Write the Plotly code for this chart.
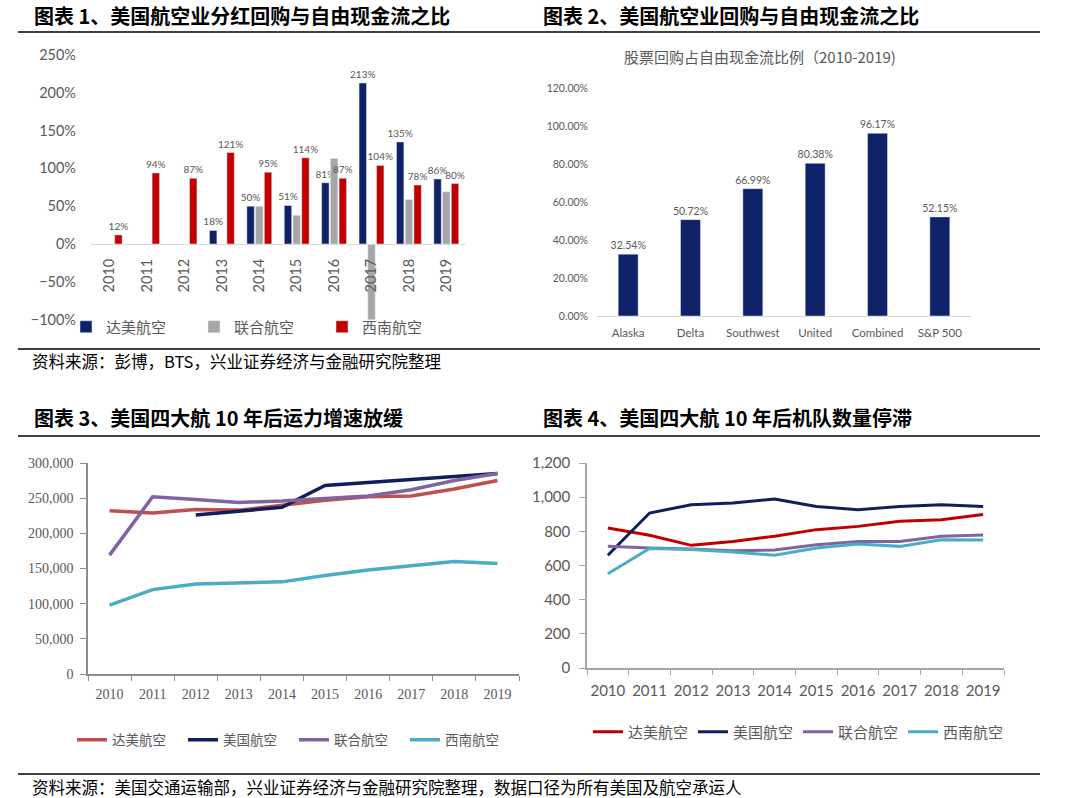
import plotly.graph_objects as go

W, H = 1077, 798

# ---- chart 1 data: dividends + buybacks / FCF (%)
years = ['2010', '2011', '2012', '2013', '2014', '2015', '2016', '2017', '2018', '2019']
delta_ratio = [None, None, None, 18, 50, 51, 81, 213, 135, 86]
united_ratio = [None, None, None, None, 50, 38, 113, -466, 59, 69]
southwest_ratio = [12, 94, 87, 121, 95, 114, 87, 104, 78, 80]

# ---- chart 2 data: buybacks / FCF 2010-2019
carriers = ['Alaska', 'Delta', 'Southwest', 'United', 'Combined', 'S&P 500']
buyback_share = [32.54, 50.72, 66.99, 80.38, 96.17, 52.15]

# ---- chart 3 data: capacity
delta_cap = [232000, 229000, 234000, 233000, 240000, 247000, 252000, 253000, 263000, 275000]
american_cap = [None, None, 226000, 231000, 237000, 268000, 272000, 276000, 281000, 285000]
united_cap = [169000, 252000, 248000, 244000, 246000, 250000, 253000, 262000, 275000, 285000]
southwest_cap = [98000, 120000, 128000, 130000, 131000, 140000, 148000, 154000, 160000, 157000]

# ---- chart 4 data: fleet size
delta_fleet = [820, 777, 718, 741, 771, 810, 829, 859, 868, 898]
american_fleet = [660, 907, 956, 966, 989, 946, 927, 946, 956, 946]
united_fleet = [712, 702, 697, 687, 691, 722, 740, 740, 771, 779]
southwest_fleet = [552, 700, 693, 679, 660, 702, 726, 712, 751, 749]

airlines = ['达美航空', '美国航空', '联合航空', '西南航空']

NAVY = '#0F2167'
GRAY_BAR = '#A6A6A6'
RED_BAR = '#C00000'
TXT = '#595959'
SANS = 'Lato, Noto Sans CJK SC'
SERIF = 'Liberation Serif, Noto Sans CJK SC'
CJK = 'Noto Sans CJK SC'


def px(x):
  return x / W


def py(y):
  return 1 - y / H


fig = go.Figure()

# chart 1
def ratio_text(vals):
  return ['' if v is None else f'{v}%' for v in vals]

label_font = dict(size=10, color=TXT, family=SANS)
fig.add_trace(go.Bar(x=years, y=delta_ratio, name='达美航空', marker_color=NAVY,
                     text=ratio_text(delta_ratio), textposition='outside', cliponaxis=False,
                     constraintext='none', textfont=label_font,
                     xaxis='x', yaxis='y', legend='legend'))
fig.add_trace(go.Bar(x=years, y=united_ratio, name='联合航空', marker_color=GRAY_BAR,
                     xaxis='x', yaxis='y', legend='legend'))
fig.add_trace(go.Bar(x=years, y=southwest_ratio, name='西南航空', marker_color=RED_BAR,
                     text=ratio_text(southwest_ratio), textposition='outside', cliponaxis=False,
                     constraintext='none', textfont=label_font,
                     xaxis='x', yaxis='y', legend='legend'))

# chart 2
fig.add_trace(go.Bar(x=carriers, y=buyback_share, marker_color=NAVY, showlegend=False,
                     texttemplate='%{y:.2f}%', textposition='outside', cliponaxis=False,
                     constraintext='none', textfont=dict(size=10.5, color=TXT, family=SANS),
                     xaxis='x2', yaxis='y2', width=0.32))

# chart 3
line_cols3 = ['#C0504D', '#0F1F5C', '#8064A2', '#4BACC6']
for name, vals, col in zip(airlines, [delta_cap, american_cap, united_cap, southwest_cap], line_cols3):
  fig.add_trace(go.Scatter(x=years, y=vals, name=name, mode='lines',
                           line=dict(color=col, width=3.5), xaxis='x3', yaxis='y3', legend='legend2'))

# chart 4
line_cols4 = ['#C00000', '#0F1F5C', '#8064A2', '#4BACC6']
for name, vals, col in zip(airlines, [delta_fleet, american_fleet, united_fleet, southwest_fleet], line_cols4):
  fig.add_trace(go.Scatter(x=years, y=vals, name=name, mode='lines',
                           line=dict(color=col, width=3), xaxis='x4', yaxis='y4', legend='legend3'))

y1dom = [py(319.6), py(55)]
zero_pos = y1dom[0] + (100 / 350) * (y1dom[1] - y1dom[0])

fig.update_layout(
  width=W, height=H,
  margin=dict(l=0, r=0, t=0, b=0, autoexpand=False),
  paper_bgcolor='white', plot_bgcolor='white',
  barmode='group', bargap=0.3, bargroupgap=0.15,
  font=dict(family=SANS, color=TXT),
  xaxis=dict(domain=[px(91), px(465)], anchor='free', position=zero_pos, automargin=False,
             type='category', range=[-0.5, 9.5], tickangle=-90, showline=True,
             linecolor='#D9D9D9', linewidth=1, showgrid=False, ticks='',
             ticklabelstandoff=8, tickfont=dict(size=14.5, color=TXT, family=SANS)),
  yaxis=dict(domain=y1dom, anchor='x', range=[-100, 250], dtick=50, ticksuffix='%',
             showgrid=False, zeroline=False, showline=False, ticklabelstandoff=14,
             automargin=False, tickfont=dict(size=14.5, color=TXT, family=SANS)),
  xaxis2=dict(domain=[px(597), px(971)], anchor='y2', type='category', range=[-0.5, 5.5],
              showline=True, linecolor='#D9D9D9', showgrid=False, ticks='', ticklabelstandoff=6,
              automargin=False, tickfont=dict(size=11.5, color=TXT, family=SANS)),
  yaxis2=dict(domain=[py(316), py(88)], anchor='x2', range=[0, 120], dtick=20,
              tickformat='.2f', ticksuffix='%', showgrid=False, zeroline=False, showline=False,
              automargin=False, ticklabelstandoff=8, tickfont=dict(size=10.5, color=TXT, family=SANS)),
  xaxis3=dict(domain=[px(88), px(519)], anchor='y3', type='category', range=[-0.5, 9.5],
              showline=True, linecolor='#8C8C8C', linewidth=1.5, showgrid=False,
              ticks='outside', tickson='boundaries', ticklen=5, tickcolor='#8C8C8C',
              automargin=False, tickangle=0,
              ticklabelstandoff=6, tickfont=dict(size=14, color=TXT, family=SERIF)),
  yaxis3=dict(domain=[py(674), py(463)], anchor='x3', range=[0, 300000], dtick=50000,
              tickformat=',', showgrid=False, zeroline=False, showline=True,
              linecolor='#8C8C8C', linewidth=1.5, ticks='outside', ticklen=6,
              tickcolor='#8C8C8C', ticklabelstandoff=4, automargin=False,
              tickfont=dict(size=14, color=TXT, family=SERIF)),
  xaxis4=dict(domain=[px(587), px(1004)], anchor='y4', type='category', range=[-0.5, 9.5],
              showline=True, linecolor='#A6A6A6', linewidth=1.5, showgrid=False,
              ticks='outside', tickson='boundaries', ticklen=5, tickcolor='#A6A6A6',
              automargin=False, tickangle=0,
              ticklabelstandoff=8, tickfont=dict(size=15, color=TXT, family=SANS)),
  yaxis4=dict(domain=[py(668), py(463)], anchor='x4', range=[0, 1200], dtick=200,
              tickformat=',', showgrid=False, zeroline=False, showline=True,
              linecolor='#A6A6A6', linewidth=1.5, ticks='outside', ticklen=6,
              tickcolor='#A6A6A6', ticklabelstandoff=6, automargin=False,
              tickfont=dict(size=15, color=TXT, family=SANS)),
  legend=dict(orientation='h', x=px(66), y=py(327), xanchor='left', yanchor='middle',
              bgcolor='rgba(0,0,0,0)', font=dict(size=15, color=TXT, family=CJK),
              entrywidth=83, itemwidth=30, traceorder='normal'),
  legend2=dict(orientation='h', x=px(72), y=py(740), xanchor='left', yanchor='middle',
               bgcolor='rgba(0,0,0,0)', font=dict(size=13.5, color=TXT, family=SERIF),
               entrywidth=66, itemwidth=30, traceorder='normal'),
  legend3=dict(orientation='h', x=px(588), y=py(732), xanchor='left', yanchor='middle',
               bgcolor='rgba(0,0,0,0)', font=dict(size=15, color=TXT, family=CJK),
               entrywidth=60, itemwidth=30, traceorder='normal'),
)

# headings, sources and rules
titles = [
  ('图表 1、美国航空业分红回购与自由现金流之比', 32, 15),
  ('图表 2、美国航空业回购与自由现金流之比', 541, 15),
  ('图表 3、美国四大航 10 年后运力增速放缓', 32, 417),
  ('图表 4、美国四大航 10 年后机队数量停滞', 541, 417),
]
for t, x, y in titles:
  fig.add_annotation(text=f'<b>{t}</b>', x=px(x), y=py(y), xref='paper', yref='paper',
                     xanchor='left', yanchor='middle', showarrow=False,
                     font=dict(size=20, color='black', family=CJK))

sources = [
  ('资料来源：彭博，BTS，兴业证券经济与金融研究院整理', 30, 361),
  ('资料来源：美国交通运输部，兴业证券经济与金融研究院整理，数据口径为所有美国及航空承运人', 30, 787),
]
for t, x, y in sources:
  fig.add_annotation(text=t, x=px(x), y=py(y), xref='paper', yref='paper',
                     xanchor='left', yanchor='middle', showarrow=False,
                     font=dict(size=16.5, color='black', family=CJK))

for y in [32, 349, 436, 774]:
  fig.add_shape(type='line', xref='paper', yref='paper', x0=px(18), x1=px(1040),
                y0=py(y), y1=py(y), line=dict(color='black', width=1.5))

fig.add_annotation(text='股票回购占自由现金流比例（2010-2019)', x=px(760), y=py(56),
                   xref='paper', yref='paper', xanchor='center', yanchor='middle',
                   showarrow=False, font=dict(size=15, color=TXT, family=CJK))

# clipped United 2017 value
fig.add_annotation(text='-466%', x='2017', y=-94, xref='x', yref='y', xshift=-25,
                   showarrow=False, font=dict(size=13, color='#FF0000', family=SANS))

# drop the default 8px page margin so the figure fills the window
fig.write_html('out.html', config={'displayModeBar': False},
               post_script="document.body.style.margin = '0';")
